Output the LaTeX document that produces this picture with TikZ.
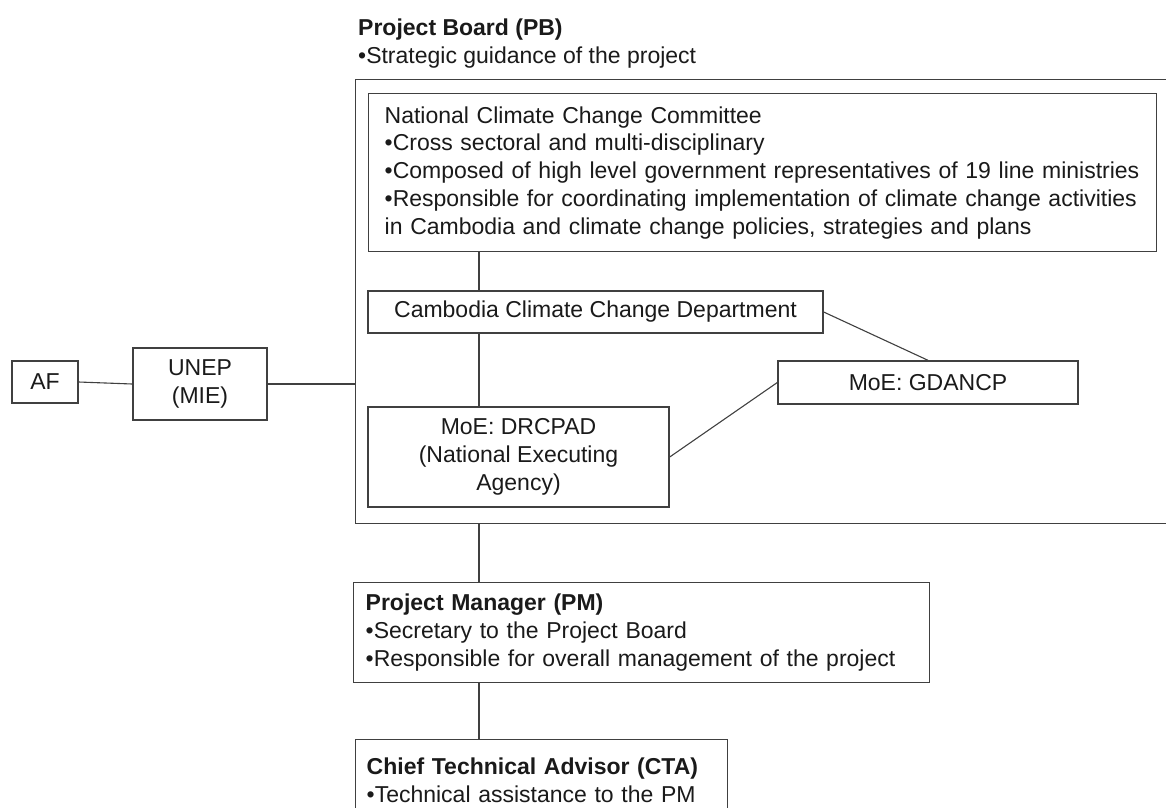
\documentclass[tikz,border=0pt]{standalone}
\usepackage{fontspec}
\setmainfont{Liberation Sans}
\definecolor{ln}{HTML}{404040}
\definecolor{tx}{HTML}{1A1A1A}
\begin{document}
\begin{tikzpicture}[x=1pt,y=-1pt,
  every node/.style={font=\fontsize{23}{27.7}\selectfont, text=tx},
  boxnode/.style={draw=ln, line width=1.4pt, inner sep=0pt},
  conn/.style={draw=ln, line width=1.1pt}]
\useasboundingbox (0,0) rectangle (1166,807);
\fill[white] (0,0) rectangle (1166,807);
\clip (0,0) rectangle (1166,807);

\node[anchor=base west, inner sep=0pt, font=\fontsize{23}{27.7}\selectfont\bfseries] (pbtitle) at (358,35) {Project Board (PB)};
\node[anchor=base west, inner sep=0pt] (pbsub) at (358,63) {•Strategic guidance of the project};
\node[boxnode, anchor=north west, minimum width=840, minimum height=444] (pb) at (355,79) {};

\node[boxnode, anchor=north west, minimum width=788, minimum height=158, text width=756, align=left, inner xsep=16] (nccc) at (368,93)
  {National Climate Change Committee\\•Cross sectoral and multi-disciplinary\\•Composed of high level government representatives of 19 line ministries\\•Responsible for coordinating implementation of climate change activities\\in Cambodia and climate change policies, strategies and plans};

\node[boxnode, minimum width=455, minimum height=42] (cccd) at (595.5,312) {Cambodia Climate Change Department};
\node[boxnode, minimum width=301, minimum height=100, align=center] (drcpad) at (518.5,457) {MoE: DRCPAD\\(National Executing\\Agency)};
\node[boxnode, minimum width=300, minimum height=43] (gdancp) at (928,382.5) {MoE: GDANCP};

\node[boxnode, minimum width=66, minimum height=42] (af) at (45,382) {AF};
\node[boxnode, minimum width=134, minimum height=72, align=center] (unep) at (200,384) {UNEP\\(MIE)};

\node[boxnode, anchor=north west, minimum width=576, minimum height=100, text width=552, align=left, inner xsep=12] (pm) at (353,582)
  {\textbf{Project Manager (PM)}\\•Secretary to the Project Board\\•Responsible for overall management of the project};
\node[boxnode, anchor=north west, minimum width=372, minimum height=108, text width=350, align=left, inner xsep=11] (cta) at (355,739)
  {\textbf{Chief Technical Advisor (CTA)}\\•Technical assistance to the PM\\\mbox{}};

\coordinate (spine) at (479,0);
\draw[conn] (af.east) -- (unep.west);
\draw[conn] (unep.east) -- (unep.east -| pb.west);
\draw[conn] (nccc.south -| spine) -- (cccd.north -| spine);
\draw[conn] (cccd.south -| spine) -- (drcpad.north -| spine);
\draw[conn] (pb.south -| spine) -- (pm.north -| spine);
\draw[conn] (pm.south -| spine) -- (cta.north -| spine);
\draw[conn] (cccd.east) -- (gdancp.north);
\draw[conn] (drcpad.east) -- (gdancp.west);
\end{tikzpicture}
\end{document}
